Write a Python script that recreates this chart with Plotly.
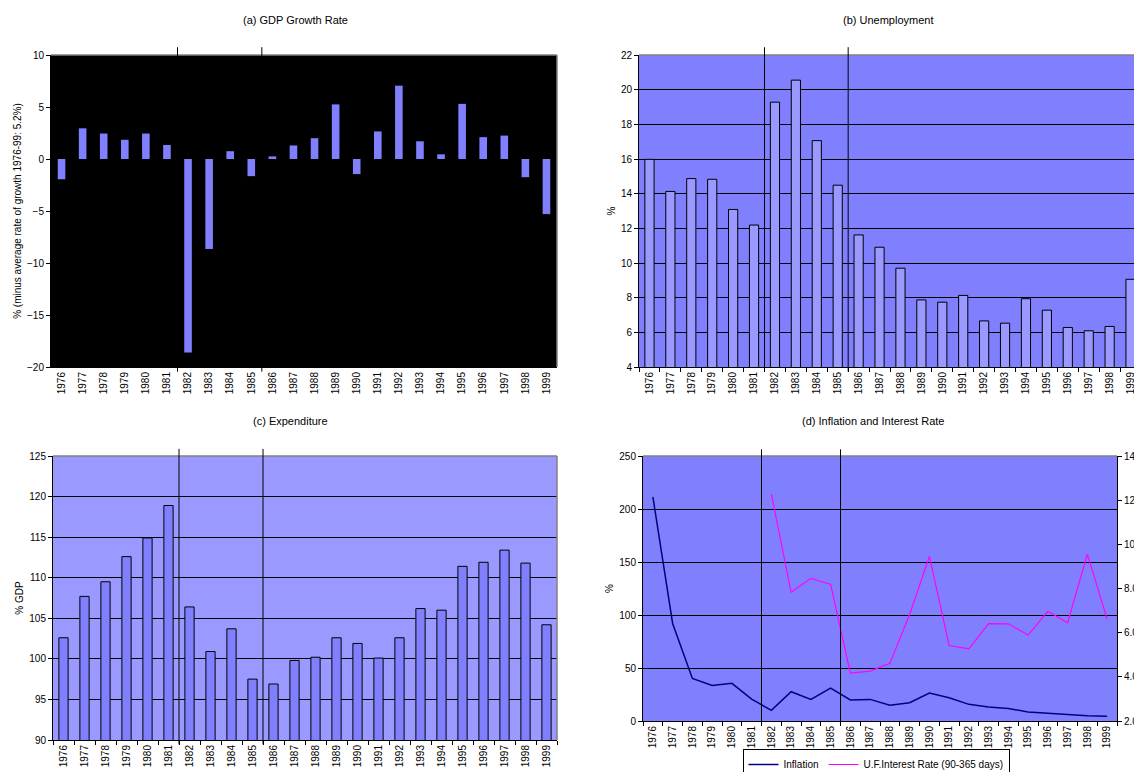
import plotly.graph_objects as go

years = [str(y) for y in range(1976, 2000)]

gdp_growth = [-1.95, 2.95, 2.45, 1.85, 2.45, 1.35, -18.6, -8.65, 0.75, -1.65, 0.25, 1.3,
              2.0, 5.25, -1.45, 2.65, 7.05, 1.7, 0.45, 5.3, 2.1, 2.25, -1.75, -5.3]

unemployment = [15.98, 14.13, 14.87, 14.83, 13.09, 12.19, 19.28, 20.55, 17.06, 14.49, 11.62, 10.91,
                9.7, 7.87, 7.74, 8.13, 6.66, 6.53, 7.94, 7.28, 6.28, 6.09, 6.34, 9.06]

expenditure = [102.6, 107.7, 109.5, 112.6, 114.9, 118.9, 106.4, 100.9, 103.7, 97.5, 96.9, 99.8,
               100.2, 102.6, 101.9, 100.1, 102.6, 106.2, 106.0, 111.4, 111.9, 113.4, 111.8, 104.2]

inflation = [211.4, 92.0, 40.2, 33.6, 35.5, 20.7, 10.0, 27.6, 20.4, 31.1, 19.8, 20.4,
             14.8, 17.3, 26.4, 22.0, 15.7, 13.2, 11.9, 8.5, 7.2, 6.0, 5.0, 4.4]

interest_rate = [None, None, None, None, None, None, 12.27, 7.83, 8.46, 8.18, 4.17, 4.26,
                 4.61, 6.82, 9.45, 5.42, 5.27, 6.41, 6.40, 5.89, 6.97, 6.45, 9.56, 6.61]

titles = ["(a) GDP Growth Rate", "(b) Unemployment", "(c) Expenditure", "(d) Inflation and Interest Rate"]
period_breaks = [5.5, 9.5]

# page body has an 8px margin: draw in a figure offset by it
OFF = 8
W, H = 1142 - OFF, 772 - OFF
FONT = "Liberation Sans, Arial, sans-serif"

def xd(a, b):
    return [(a - OFF) / W, (b - OFF) / W]

def yd(top, bottom):
    return [1 - (bottom - OFF) / H, 1 - (top - OFF) / H]

fig = go.Figure()

fig.add_trace(go.Bar(x=years, y=gdp_growth, marker=dict(color="#8080FF", line=dict(width=0)),
                     width=0.36, xaxis="x", yaxis="y", showlegend=False))
fig.add_trace(go.Bar(x=years, y=unemployment, marker=dict(color="#9999FF", line=dict(color="black", width=1)),
                     width=0.44, xaxis="x2", yaxis="y2", showlegend=False))
fig.add_trace(go.Bar(x=years, y=expenditure, marker=dict(color="#8080FF", line=dict(color="black", width=1)),
                     width=0.44, xaxis="x3", yaxis="y3", showlegend=False))
fig.add_trace(go.Scatter(x=years, y=inflation, mode="lines", name="Inflation",
                         line=dict(color="#000080", width=1.5), xaxis="x4", yaxis="y4"))
fig.add_trace(go.Scatter(x=years, y=interest_rate, mode="lines", name="U.F.Interest Rate (90-365 days)",
                         line=dict(color="#FF00FF", width=1.2), xaxis="x4", yaxis="y5", connectgaps=False))

tickfont = dict(family=FONT, size=10, color="black")

def xaxis(domain, anchor, ticks="outside"):
    return dict(domain=domain, anchor=anchor, type="category", tickangle=-90, tickfont=tickfont,
                ticks=ticks, tickson="boundaries", ticklen=4, tickcolor="black",
                showline=True, linecolor="black", linewidth=1, showgrid=False, zeroline=False,
                range=[-0.5, 23.5], fixedrange=True, automargin=False)

def yaxis(domain, anchor, rng, dtick, title, grid=True):
    return dict(domain=domain, anchor=anchor, range=rng, dtick=dtick, tickfont=tickfont,
                ticks="outside", ticklen=4, tickcolor="black", showline=True, linecolor="black",
                linewidth=1, showgrid=grid, gridcolor="black", gridwidth=1, zeroline=False,
                automargin=False,
                title=dict(text=title, font=dict(family=FONT, size=10, color="black"), standoff=3))

layout = dict(
    width=W, height=H, autosize=False,
    margin=dict(l=0, r=0, t=0, b=0, pad=0, autoexpand=False),
    paper_bgcolor="white",
    font=dict(family=FONT, size=10, color="black"),
    barmode="overlay",
    xaxis=xaxis(xd(51, 557), "y", ticks=""),
    yaxis=yaxis(yd(55, 367), "x", [-20, 10], 5, "% (minus average rate of growth 1976-99: 5.2%)", grid=False),
    xaxis2=xaxis(xd(639, 1141), "y2"),
    yaxis2=yaxis(yd(55, 367), "x2", [4, 22], 2, "%"),
    xaxis3=xaxis(xd(53, 557), "y3"),
    yaxis3=yaxis(yd(456, 740), "x3", [90, 125], 5, "% GDP"),
    xaxis4=xaxis(xd(643, 1117), "y4"),
    yaxis4=yaxis(yd(456, 721), "x4", [0, 250], 50, "%"),
    yaxis5=dict(overlaying="y4", anchor="x4", side="right", range=[2, 14], dtick=2, tickformat=".1f",
                tickfont=tickfont, ticks="outside", ticklen=4, tickcolor="black", showline=True,
                linecolor="black", linewidth=1, showgrid=False, zeroline=False, automargin=False),
    legend=dict(orientation="h", xref="container", yref="container",
                x=(876 - OFF) / W, xanchor="center", y=1 - (749 - OFF) / H, yanchor="top",
                bordercolor="black", borderwidth=1, bgcolor="white",
                font=dict(family=FONT, size=10, color="black"), tracegroupgap=0),
)
fig.update_layout(**layout)

shapes = []
bgs = {"": "black", "2": "#8080FF", "3": "#9999FF", "4": "#8080FF"}
for k, col in bgs.items():
    shapes.append(dict(type="rect", xref=f"x{k} domain", yref=f"y{k} domain", x0=0, x1=1, y0=0, y1=1,
                       fillcolor=col, line=dict(width=0), layer="below"))
    shapes.append(dict(type="line", xref=f"x{k} domain", yref=f"y{k} domain", x0=0, x1=1, y0=1, y1=1,
                       line=dict(color="#808080", width=1.5), layer="above"))
    if k != "4":
        shapes.append(dict(type="line", xref=f"x{k} domain", yref=f"y{k} domain", x0=1, x1=1, y0=0, y1=1,
                           line=dict(color="#808080", width=1.5), layer="above"))
    for b in period_breaks:
        shapes.append(dict(type="line", xref=f"x{k}", yref=f"y{k} domain", x0=b, x1=b, y0=-0.015, y1=1.025,
                           line=dict(color="black", width=1), layer="above"))
fig.update_layout(shapes=shapes, plot_bgcolor="white")

annotations = []
title_pos = [(295, 20), (888, 20), (290, 421), (873, 421)]
for t, (x, y) in zip(titles, title_pos):
    annotations.append(dict(text=t, x=(x - OFF) / W, y=1 - (y - OFF) / H, xref="paper", yref="paper",
                            showarrow=False, xanchor="center", yanchor="middle",
                            font=dict(family=FONT, size=11, color="black")))
fig.update_layout(annotations=annotations)

fig.write_html("out.html")
